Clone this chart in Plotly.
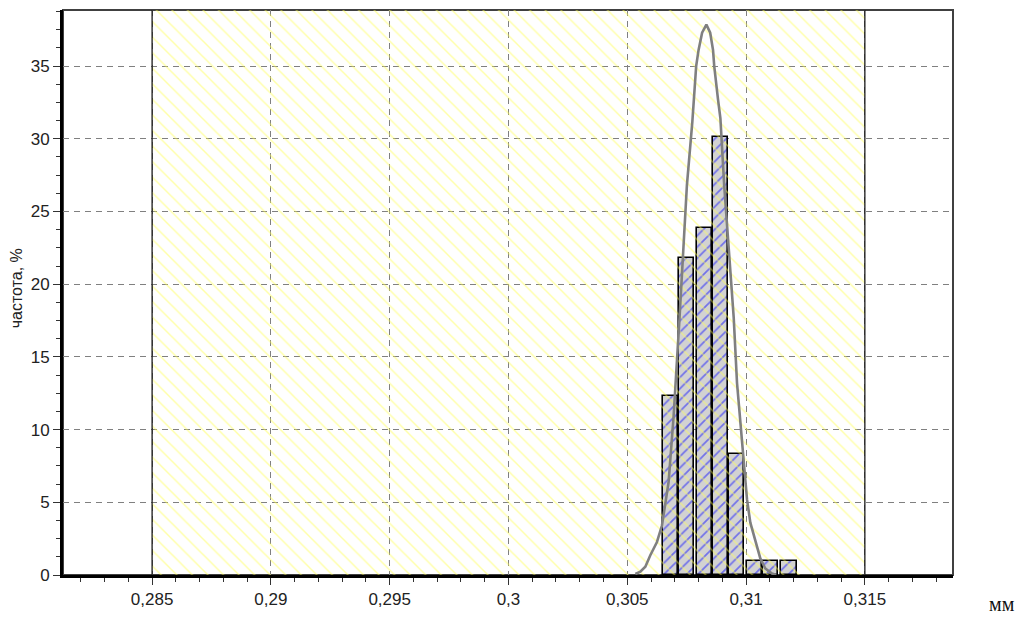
import plotly.graph_objects as go

# ---- data ----
tolerance_limits = [0.285, 0.315]          # hatched tolerance zone (mm)
bar_centers = [0.30683, 0.30749, 0.30826, 0.30893, 0.30959, 0.31036, 0.31104, 0.31180]
bar_freq = [12.3, 21.8, 23.9, 30.1, 8.3, 0.95, 0.95, 0.95]
bar_width = 0.00065

curve_x = [0.30534, 0.30555, 0.30576, 0.30597, 0.30625, 0.30646, 0.30674, 0.30695,
           0.30720, 0.30737, 0.30751, 0.30774, 0.30790, 0.30800, 0.30815, 0.30833,
           0.30849, 0.30861, 0.30866, 0.30882, 0.30892, 0.30908, 0.30927, 0.30948,
           0.30962, 0.30990, 0.31004, 0.31018, 0.31039, 0.31060, 0.31081, 0.31109, 0.31127]
curve_y = [0.07, 0.23, 0.57, 1.36, 2.27, 3.4, 6.4, 10.9,
           17.7, 22.3, 26.8, 31.2, 35.0, 36.1, 37.3, 37.85,
           37.3, 36.1, 35.0, 32.7, 31.4, 26.8, 22.3, 17.7,
           13.2, 8.2, 5.2, 3.6, 2.27, 1.14, 0.45, 0.1, 0.0]

x_tickvals = [0.285, 0.29, 0.295, 0.3, 0.305, 0.31, 0.315]
x_ticktext = ["0,285", "0,29", "0,295", "0,3", "0,305", "0,31", "0,315"]
y_tickvals = [0, 5, 10, 15, 20, 25, 30, 35]
y_ticktext = ["0", "5", "10", "15", "20", "25", "30", "35"]

x_range = [0.28125, 0.31871]
y_range = [0, 38.86]

FONT = "Liberation Sans"
FS = 17

fig = go.Figure()

# histogram bars
fig.add_trace(go.Bar(
    x=bar_centers, y=bar_freq, width=bar_width,
    marker=dict(color="#d2d2d2",
                line=dict(color="#000000", width=1.6),
                pattern=dict(shape="/", fgcolor="#1010ff", bgcolor="#d2d2d2", size=8, solidity=0.22)),
    showlegend=False))

# hatched tolerance zone (drawn over bars, transparent background)
lo, hi = tolerance_limits
fig.add_trace(go.Scatter(
    x=[lo, hi, hi, lo, lo], y=[y_range[0], y_range[0], y_range[1], y_range[1], y_range[0]],
    mode="lines", line=dict(width=0), fill="toself",
    fillcolor="rgba(0,0,0,0)",
    fillpattern=dict(shape="\\", fgcolor="#ffff50", bgcolor="rgba(0,0,0,0)", size=11, solidity=0.13),
    hoverinfo="skip", showlegend=False))

# fitted curve
fig.add_trace(go.Scatter(
    x=curve_x, y=curve_y, mode="lines",
    line=dict(color="#808080", width=2.6), showlegend=False))

# tolerance limit lines
for v in tolerance_limits:
    fig.add_shape(type="line", xref="x", yref="paper", x0=v, x1=v, y0=0, y1=1,
                  line=dict(color="#1a1a1a", width=1.3), layer="above")

# outer frame
fig.add_shape(type="rect", xref="paper", yref="paper", x0=0, x1=1, y0=0, y1=1,
              line=dict(color="#404040", width=2), layer="below")

grid = dict(showgrid=True, gridcolor="#808080", griddash="6px,5px", gridwidth=1)

fig.update_layout(
    width=1023, height=619,
    margin=dict(l=63, r=70, t=10, b=39),
    paper_bgcolor="white", plot_bgcolor="white",
    font=dict(family=FONT, size=FS, color="#222222"),
    bargap=0,
    xaxis=dict(range=x_range, tickmode="array", tickvals=x_tickvals, ticktext=x_ticktext,
               showline=True, linecolor="#000000", linewidth=3,
               ticks="outside", ticklen=7, tickcolor="#333333", tickwidth=1,
               minor=dict(tickmode="linear", tick0=0.285, dtick=0.001, ticks="outside",
                          ticklen=4, tickcolor="#333333", showgrid=False),
               zeroline=False, tickfont=dict(size=FS), **grid),
    yaxis=dict(range=y_range, tickmode="array", tickvals=y_tickvals, ticktext=y_ticktext,
               showline=True, linecolor="#000000", linewidth=3,
               ticks="outside", ticklen=7, tickcolor="#333333", tickwidth=1,
               minor=dict(tickmode="linear", tick0=0, dtick=1.25, ticks="outside",
                          ticklen=4, tickcolor="#333333", showgrid=False),
               zeroline=False, tickfont=dict(size=FS), **grid),
    annotations=[
        dict(text="частота, %", xref="paper", yref="paper", x=-0.052, y=0.507,
             textangle=-90, showarrow=False, font=dict(family=FONT, size=16, color="#222222"),
             xanchor="center", yanchor="middle"),
        dict(text="мм", xref="paper", yref="paper", x=(1002 - 63) / 890, y=(580 - 609) / 570,
             showarrow=False, font=dict(family="Liberation Serif", size=20, color="#111111"),
             xanchor="center", yanchor="middle"),
    ],
)

fig.write_html("out.html")
